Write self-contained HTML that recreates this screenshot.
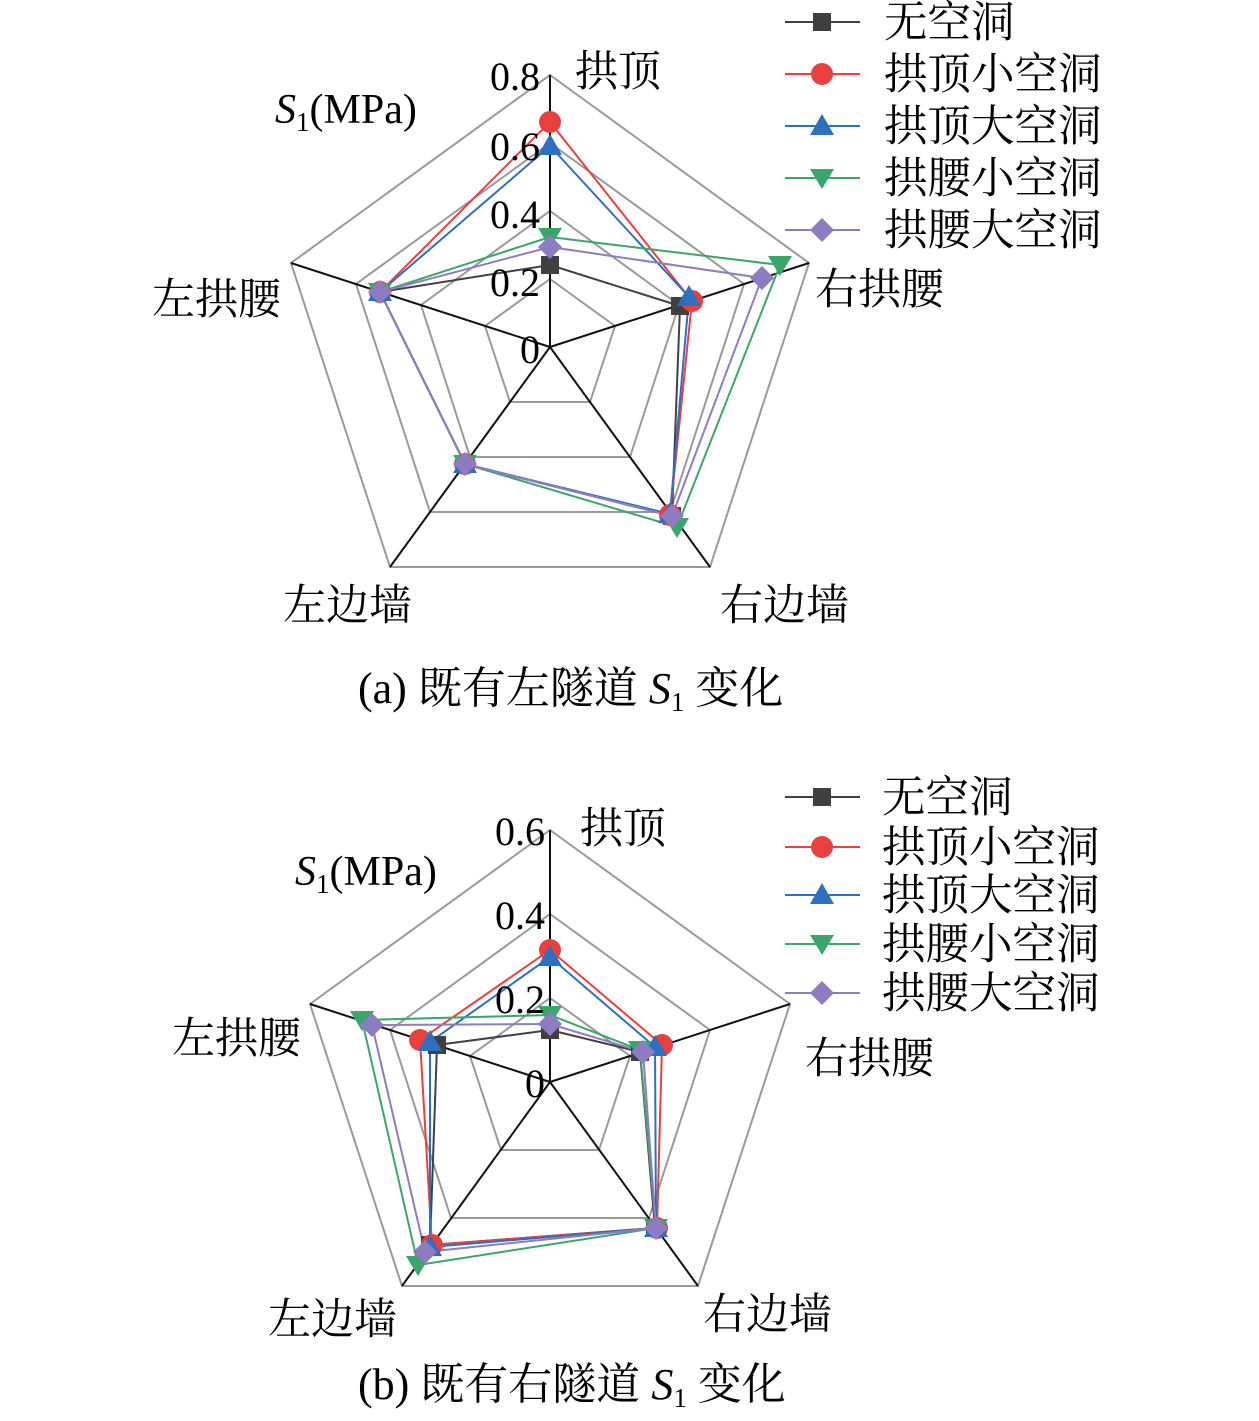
<!DOCTYPE html>
<html><head><meta charset="utf-8"><style>
html,body{margin:0;padding:0;background:#fff}
svg text{font-family:"Liberation Serif","Noto Serif CJK SC",serif}
</style></head><body>
<svg width="1259" height="1416" viewBox="0 0 1259 1416" xmlns="http://www.w3.org/2000/svg">
<defs>
<g id="mk0"><rect x="-9" y="-9" width="18" height="18" fill="#404040"/></g>
<g id="mk1"><circle r="11" fill="#e8403f"/></g>
<g id="mk2"><polygon points="0,-12 12,9 -12,9" fill="#2e6fbf"/></g>
<g id="mk3"><polygon points="0,11 12,-9 -12,-9" fill="#3aa66a"/></g>
<g id="mk4"><polygon points="0,-12 12,0 0,12 -12,0" fill="#8e7cc3"/></g>
</defs>

<g fill="none" stroke="#999" stroke-width="2">
<polygon points="550,279 615,326 590,402 510,402 485,326"/>
<polygon points="550,211 679,305 630,457 470,457 421,305"/>
<polygon points="550,143 744,284 670,512 430,512 356,284"/>
<polygon points="550,75 809,263 710,567 390,567 291,263"/>
</g>
<g stroke="#111" stroke-width="2">
<line x1="550" y1="347" x2="550" y2="75"/><line x1="550" y1="347" x2="809" y2="263"/>
<line x1="550" y1="347" x2="710" y2="567"/><line x1="550" y1="347" x2="390" y2="567"/>
<line x1="550" y1="347" x2="291" y2="263"/>
</g>
<g fill="none" stroke-width="2">
<polygon stroke="#404040" points="550,265 680,306 672,516 465,464 380,292"/>
<polygon stroke="#e8403f" points="550,122 692,301 670,515 465,464 380,292"/>
<polygon stroke="#2e6fbf" points="550,146 689,297 670,514 465,464 380,292"/>
<polygon stroke="#3aa66a" points="550,237 780,265 677,527 465,464 380,292"/>
<polygon stroke="#8e7cc3" points="550,247 762,278 672,516 465,464 380,292"/>
</g>
<use href="#mk0" x="550" y="265"/><use href="#mk0" x="680" y="306"/><use href="#mk0" x="672" y="516"/><use href="#mk0" x="465" y="464"/><use href="#mk0" x="380" y="292"/>
<use href="#mk1" x="550" y="122"/><use href="#mk1" x="692" y="301"/><use href="#mk1" x="670" y="515"/><use href="#mk1" x="465" y="464"/><use href="#mk1" x="380" y="292"/>
<use href="#mk2" x="550" y="146"/><use href="#mk2" x="689" y="297"/><use href="#mk2" x="670" y="514"/><use href="#mk2" x="465" y="464"/><use href="#mk2" x="380" y="292"/>
<use href="#mk3" x="550" y="237"/><use href="#mk3" x="780" y="265"/><use href="#mk3" x="677" y="527"/><use href="#mk3" x="465" y="464"/><use href="#mk3" x="380" y="292"/>
<use href="#mk4" x="550" y="247"/><use href="#mk4" x="762" y="278"/><use href="#mk4" x="672" y="516"/><use href="#mk4" x="465" y="464"/><use href="#mk4" x="380" y="292"/>
<g font-size="40" text-anchor="end">
<text x="540" y="90">0.8</text><text x="540" y="160">0.6</text><text x="540" y="228">0.4</text><text x="540" y="296">0.2</text><text x="540" y="363">0</text>
</g>
<g font-size="43">
<text x="575" y="86">拱顶</text><text x="815" y="304">右拱腰</text><text x="720" y="620">右边墙</text>
<text x="283" y="620">左边墙</text><text x="152" y="314">左拱腰</text>
<text x="275" y="123" font-size="42"><tspan font-style="italic">S</tspan><tspan font-size="27" dy="8">1</tspan><tspan dy="-8">(MPa)</tspan></text>
<text x="358" y="703" font-size="44">(a) 既有左隧道 <tspan font-style="italic">S</tspan><tspan font-size="27" dy="8">1</tspan><tspan dy="-8"> 变化</tspan></text>
</g>
<g stroke-width="2">
<line x1="785" y1="22" x2="860" y2="22" stroke="#404040"/><use href="#mk0" x="822" y="22"/>
<line x1="785" y1="74" x2="860" y2="74" stroke="#e8403f"/><use href="#mk1" x="822" y="74"/>
<line x1="785" y1="126" x2="860" y2="126" stroke="#2e6fbf"/><use href="#mk2" x="822" y="126"/>
<line x1="785" y1="178" x2="860" y2="178" stroke="#3aa66a"/><use href="#mk3" x="822" y="178"/>
<line x1="785" y1="230" x2="860" y2="230" stroke="#8e7cc3"/><use href="#mk4" x="822" y="230"/>
</g>
<g font-size="43.5">
<text x="884" y="37">无空洞</text><text x="884" y="89">拱顶小空洞</text><text x="884" y="141">拱顶大空洞</text><text x="884" y="193">拱腰小空洞</text><text x="884" y="245">拱腰大空洞</text>
</g>

<g fill="none" stroke="#999" stroke-width="2">
<polygon points="550,998 630,1056 599,1150 501,1150 470,1056"/>
<polygon points="550,914 710,1030 649,1218 451,1218 390,1030"/>
<polygon points="550,830 790,1004 698,1286 402,1286 310,1004"/>
</g>
<g stroke="#111" stroke-width="2">
<line x1="550" y1="1082" x2="550" y2="830"/><line x1="550" y1="1082" x2="790" y2="1004"/>
<line x1="550" y1="1082" x2="698" y2="1286"/><line x1="550" y1="1082" x2="402" y2="1286"/>
<line x1="550" y1="1082" x2="310" y2="1004"/>
</g>
<g fill="none" stroke-width="2">
<polygon stroke="#404040" points="550,1030 640,1052 655,1228 430,1245 437,1045"/>
<polygon stroke="#e8403f" points="550,950 662,1045 657,1228 432,1245 420,1040"/>
<polygon stroke="#2e6fbf" points="550,957 655,1047 656,1228 430,1247 430,1042"/>
<polygon stroke="#3aa66a" points="550,1015 640,1050 656,1228 418,1265 362,1020"/>
<polygon stroke="#8e7cc3" points="550,1024 643,1052 656,1228 425,1252 372,1025"/>
</g>
<use href="#mk0" x="550" y="1030"/><use href="#mk0" x="640" y="1052"/><use href="#mk0" x="655" y="1228"/><use href="#mk0" x="430" y="1245"/><use href="#mk0" x="437" y="1045"/>
<use href="#mk1" x="550" y="950"/><use href="#mk1" x="662" y="1045"/><use href="#mk1" x="657" y="1228"/><use href="#mk1" x="432" y="1245"/><use href="#mk1" x="420" y="1040"/>
<use href="#mk2" x="550" y="957"/><use href="#mk2" x="655" y="1047"/><use href="#mk2" x="656" y="1228"/><use href="#mk2" x="430" y="1247"/><use href="#mk2" x="430" y="1042"/>
<use href="#mk3" x="550" y="1015"/><use href="#mk3" x="640" y="1050"/><use href="#mk3" x="656" y="1228"/><use href="#mk3" x="418" y="1265"/><use href="#mk3" x="362" y="1020"/>
<use href="#mk4" x="550" y="1024"/><use href="#mk4" x="643" y="1052"/><use href="#mk4" x="656" y="1228"/><use href="#mk4" x="425" y="1252"/><use href="#mk4" x="372" y="1025"/>
<g font-size="40" text-anchor="end">
<text x="545" y="845">0.6</text><text x="545" y="929">0.4</text><text x="545" y="1013">0.2</text><text x="545" y="1097">0</text>
</g>
<g font-size="43">
<text x="580" y="843">拱顶</text><text x="805" y="1073">右拱腰</text><text x="703" y="1329">右边墙</text>
<text x="268" y="1334">左边墙</text><text x="172" y="1053">左拱腰</text>
<text x="295" y="885" font-size="42"><tspan font-style="italic">S</tspan><tspan font-size="27" dy="8">1</tspan><tspan dy="-8">(MPa)</tspan></text>
<text x="358" y="1399" font-size="44">(b) 既有右隧道 <tspan font-style="italic">S</tspan><tspan font-size="27" dy="8">1</tspan><tspan dy="-8"> 变化</tspan></text>
</g>
<g stroke-width="2">
<line x1="785" y1="797" x2="860" y2="797" stroke="#404040"/><use href="#mk0" x="822" y="797"/>
<line x1="785" y1="847" x2="860" y2="847" stroke="#e8403f"/><use href="#mk1" x="822" y="847"/>
<line x1="785" y1="895" x2="860" y2="895" stroke="#2e6fbf"/><use href="#mk2" x="822" y="895"/>
<line x1="785" y1="944" x2="860" y2="944" stroke="#3aa66a"/><use href="#mk3" x="822" y="944"/>
<line x1="785" y1="993" x2="860" y2="993" stroke="#8e7cc3"/><use href="#mk4" x="822" y="993"/>
</g>
<g font-size="43.5">
<text x="882" y="812">无空洞</text><text x="882" y="862">拱顶小空洞</text><text x="882" y="910">拱顶大空洞</text><text x="882" y="959">拱腰小空洞</text><text x="882" y="1008">拱腰大空洞</text>
</g>
</svg>
</body></html>
